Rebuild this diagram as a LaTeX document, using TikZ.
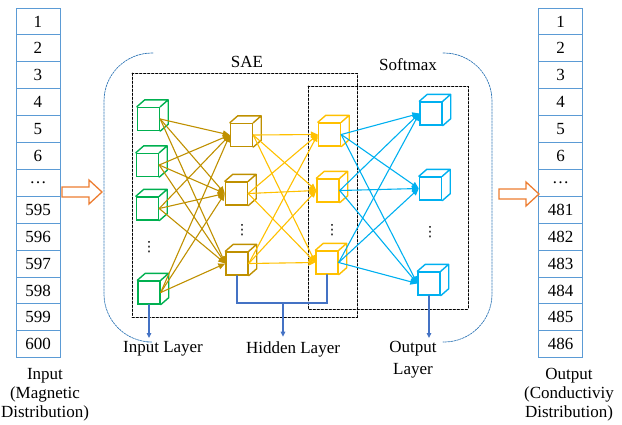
\documentclass[tikz,border=0pt]{standalone}
\usepackage{fontspec}
\setmainfont{Liberation Serif}
\newfontfamily\symfont{DejaVu Sans}
\usetikzlibrary{arrows.meta,calc}
\definecolor{tabblue}{HTML}{5B9BD5}
\definecolor{arrorange}{HTML}{ED7D31}
\definecolor{brkblue}{HTML}{2E75B6}
\definecolor{inpgreen}{HTML}{00B050}
\definecolor{hidbrown}{HTML}{BF9000}
\definecolor{hidyellow}{HTML}{FFC000}
\definecolor{outcyan}{HTML}{00B0F0}
\definecolor{laybline}{HTML}{4472C4}
\tikzset{
  cellbox/.style={draw=tabblue,line width=0.9pt,minimum width=44pt,minimum height=26.9pt,inner sep=0pt},
  cube/.style={draw=#1,line width=1.4pt,minimum width=22pt,minimum height=23pt,inner sep=0pt},
  link/.style={draw=#1,line width=1.1pt,-{Triangle[length=7pt,width=6pt]}},
  layerline/.style={draw=laybline,line width=1.4pt},
  layerarrow/.style={layerline,-{Triangle[length=5pt,width=4.5pt]}},
  dashbox/.style={dash pattern=on 2.5pt off 1.5pt,line width=0.7pt},
  bracket/.style={draw=brkblue,dash pattern=on 2pt off 1pt,line width=0.7pt,rounded corners=48pt},
  hollow/.style={draw=arrorange,line width=1.3pt,fill=white,line join=miter},
  vdotsnode/.style={font=\symfont\fontsize{14}{14}\selectfont,inner sep=0pt}
}
\newcommand\cubedepth[2]{%
  \draw[#2,line width=1.4pt,line join=round] (#1.north west) -- ++(8pt,7pt)
    -- ($(#1.north east)+(8pt,7pt)$) -- ($(#1.south east)+(8pt,7pt)$) -- (#1.south east)
    (#1.north east) -- ++(8pt,7pt);}
\begin{document}
\begin{tikzpicture}[x=1pt,y=-1pt,line cap=round,font=\fontsize{17}{19}\selectfont]
  \useasboundingbox (0,0) rectangle (622,424);
  % input and output columns
  \foreach \t [count=\i] in {1,2,3,4,5,6,\ldots,595,596,597,598,599,600}
    \node[cellbox] (in\i) at (38,{8+26.9*(\i-0.5)}) {\t};
  \foreach \t [count=\i] in {1,2,3,4,5,6,\ldots,481,482,483,484,485,486}
    \node[cellbox] (out\i) at (560.5,{8+26.9*(\i-0.5)}) {\t};
  \node[align=center] (inlabel) at (45,395) {Input\\(Magnetic\\Distribution)};
  \node[align=center] (outlabel) at (569,395) {Output\\(Conductiviy\\Distribution)};
  \foreach \s/\c in {62/192,499/194}
    \draw[hollow] (\s,\c-5) -- ++(27,0) -- ++(0,-7) -- ++(13,12) -- ++(-13,12) -- ++(0,-7) -- ++(-27,0) -- cycle;
  % brackets and boxes
  \draw[bracket] (153,53) -- (104,53) -- (104,342) -- (147,342);
  \draw[bracket] (443,53) -- (492,53) -- (492,342) -- (443,342);
  \draw[dashbox] (132,73) rectangle (357,317);
  \draw[dashbox] (308,86) rectangle (468,309);
  \node (sae) at (247,62) {SAE};
  \node (softmax) at (408,65) {Softmax};
  % cubes
  \foreach \n/\x/\y/\c in {g1/148.5/119/inpgreen,g2/147.5/165/inpgreen,g3/147.5/208.5/inpgreen,g4/149/292.5/inpgreen,
      h1/241.5/135/hidbrown,h2/236.5/193.5/hidbrown,h3/237/263.5/hidbrown,
      y1/329.5/134.5/hidyellow,y2/328/190.5/hidyellow,y3/327/262.5/hidyellow,
      o1/431/113.5/outcyan,o2/430.5/188.5/outcyan,o3/429/283.5/outcyan}{
    \node[cube=\c] (\n) at (\x,\y) {};
    \cubedepth{\n}{\c}
  }
  \foreach \n/\x/\y in {gdots/149/247,hdots/242/230,ydots/332/230,odots/430/232}
    \node[vdotsnode] (\n) at (\x,\y) {⋮};
  \foreach \a in {g1,g2,g3,g4}
    \foreach \b in {h1,h2,h3}
      \draw[link=hidbrown] (\a.east) -- (\b.west);
  \foreach \a in {h1,h2,h3}
    \foreach \b in {y1,y2,y3}
      \draw[link=hidyellow] (\a.east) -- (\b.west);
  \foreach \a in {y1,y2,y3}
    \foreach \b in {o1,o2,o3}
      \draw[link=outcyan] (\a.east) -- (\b.west);
  % layer labels
  \node (inlayer) at (163,349) {Input Layer};
  \node (hidlayer) at (293,349) {Hidden Layer};
  \node[align=center,font=\fontsize{17}{22}\selectfont] (outlayer) at (413,360) {Output\\Layer};
  \coordinate (hbar) at (283,303);
  \draw[layerline] (h3.south) |- (hbar) -| (y3.south);
  \draw[layerarrow,shorten >=1pt] (hbar) -- (hbar |- hidlayer.north);
  \draw[layerarrow] (g4.south) -- (g4.south |- inlayer.north);
  \draw[layerarrow] (o3.south) -- (o3.south |- outlayer.north);
\end{tikzpicture}
\end{document}
